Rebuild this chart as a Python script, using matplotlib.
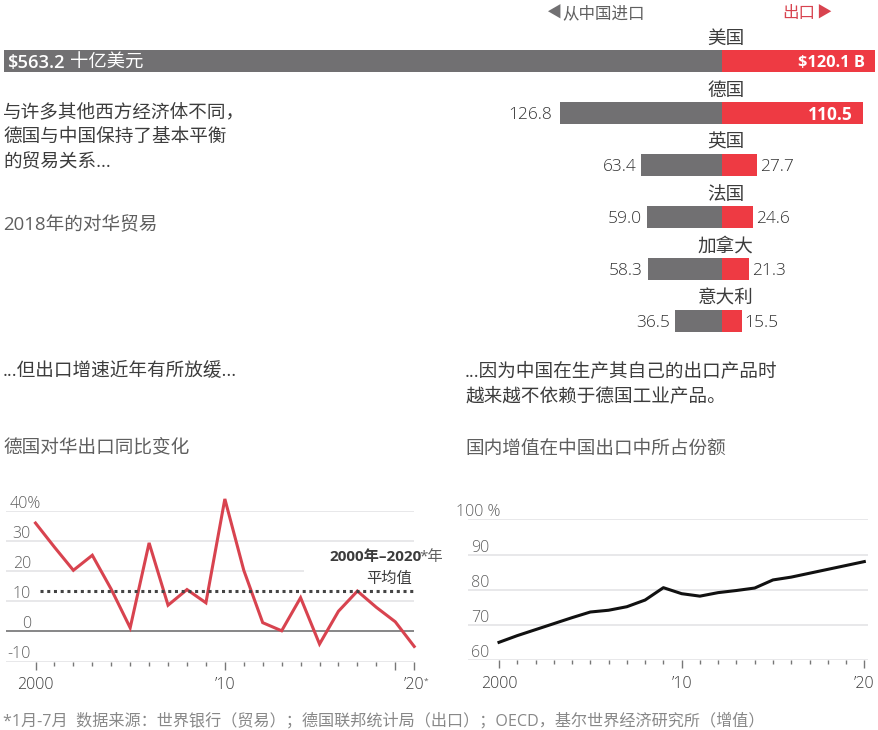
import matplotlib
matplotlib.use("Agg")
import matplotlib.pyplot as plt

plt.rcParams['font.family'] = ['Open Sans', 'Noto Sans CJK SC', 'DejaVu Sans']

W, H = 879, 730

countries = ["美国", "德国", "英国", "法国", "加拿大", "意大利"]
imports = [563.2, 126.8, 63.4, 59.0, 58.3, 36.5]
exports = [120.1, 110.5, 27.7, 24.6, 21.3, 15.5]

years = list(range(2000, 2021))
export_growth = [36, 28, 20.3, 25.3, 14, 1.2, 29.4, 8.7, 13.9, 9.5, 44, 20.3,
                 2.9, 0.2, 11.2, -4.2, 6.7, 13.4, 8, 3.2, -5]
export_avg = 13.4
domestic_share = [65.1, 67.0, 68.7, 70.4, 72.1, 73.7, 74.2, 75.2, 77.1, 80.6, 78.9,
                  78.2, 79.2, 79.8, 80.5, 82.8, 83.6, 84.7, 85.8, 86.9, 88.0]

GREY = "#717072"
RED = "#ee3a43"
TEXT = "#3c3c3c"
SOFT = "#5f5f5f"
GRID = "#e6e6e8"
SIZE = 13.4


def px_axes(fig, left, top, right, bottom):
    """Axes from pixel box, top-left origin."""
    return fig.add_axes([left / W, 1 - bottom / H, (right - left) / W, (bottom - top) / H])


def px_text(fig, x, y, s, size=SIZE, color=TEXT, ha="left", **kw):
    fig.text(x / W, 1 - (y + 2) / H, s, fontsize=size, color=color, ha=ha, va="center", **kw)


def plot_bars(fig):
    ax = px_axes(fig, 0, 35, 879, 347)
    scale = 1.275  # px per unit
    ax.set_xlim(-722 / scale, (879 - 722) / scale)
    ax.set_ylim(5.5, -0.5)
    ax.axis("off")
    ax.patch.set_alpha(0)
    pos = list(range(len(countries)))
    ax.barh(pos, [-v for v in imports], height=0.41, color=GREY)
    ax.barh(pos, exports, height=0.41, color=RED)
    for i, name in enumerate(countries):
        ax.annotate(name, (3, i), xytext=(0, 22), textcoords="offset pixels",
                    ha="center", va="center", fontsize=SIZE, color=TEXT)
        if i == 0:
            ax.annotate(f"${imports[i]}", (-imports[i], i), xytext=(3, -2),
                        textcoords="offset pixels", ha="left", va="center",
                        fontsize=13.2, color="white", fontweight="semibold")
            ax.annotate("十亿美元", (-imports[i], i), xytext=(66, -2),
                        textcoords="offset pixels", ha="left", va="center",
                        fontsize=13.2, color="white")
            ax.annotate(f"${exports[i]} B", (exports[i], i), xytext=(-10, -2),
                        textcoords="offset pixels", ha="right", va="center",
                        fontsize=11.8, color="white", fontweight="bold")
            continue
        gap = 8 if i == 1 else 5
        ax.annotate(f"{imports[i]:.1f}", (-imports[i], i), xytext=(-gap, -2),
                    textcoords="offset pixels", ha="right", va="center",
                    fontsize=12.5, color="#333333", fontweight="light")
        if i == 1:
            ax.annotate(f"{exports[i]:.1f}", (exports[i], i), xytext=(-10, -2),
                        textcoords="offset pixels", ha="right", va="center",
                        fontsize=12.5, color="white", fontweight="bold")
        else:
            ax.annotate(f"{exports[i]:.1f}", (exports[i], i), xytext=(3, -2),
                        textcoords="offset pixels", ha="left", va="center",
                        fontsize=12.5, color="#333333", fontweight="light")


def style_line_axes(ax, yticks, ylabels, label_x, xmajor, xlabels):
    for s in ax.spines.values():
        s.set_visible(False)
    ax.patch.set_alpha(0)
    ax.set_yticks(yticks)
    ax.set_yticklabels([])
    ax.tick_params(axis="y", length=0)
    ax.grid(axis="y", color=GRID, lw=1.3)
    ax.set_axisbelow(True)
    ax.set_xticks(xmajor, xlabels, fontsize=11.5, color=TEXT, fontweight="light")
    ax.set_xticks([y for y in years if y not in xmajor], minor=True)
    ax.tick_params(axis="x", which="major", length=6, width=1, color="#777777", pad=5)
    ax.tick_params(axis="x", which="minor", length=3, width=1, color="#777777")
    for y, lab, off in zip(yticks, ylabels, label_x):
        ax.annotate(lab, (0, y), xycoords=("axes fraction", "data"), xytext=(off, 7),
                    textcoords="offset pixels", ha="right", va="center", fontsize=11.5,
                    color=SOFT, fontweight="light")


def plot_growth(fig):
    left, right = 6, 414.5
    ax = px_axes(fig, left, 511, right, 661.5)
    unit = (414.2 - 35.5) / 20
    ax.set_xlim(2000 - (35.5 - left) / unit, 2020 + (right - 414.2) / unit)
    ax.set_ylim(-10, 40)
    yticks = [-10, 0, 10, 20, 30, 40]
    # 2019 tick is long in the original, so it goes in as an unlabelled major tick
    style_line_axes(ax, yticks, ["-10", "0", "10", "20", "30", "40%"],
                    [25, 25, 25, 25, 25, 35],
                    [2000, 2010, 2019, 2020], ["2000", "’10", "", "’20"])
    ax.annotate("*", (2020, -10), xytext=(9, -20), textcoords="offset pixels",
                ha="left", va="center", fontsize=6, color=SOFT, annotation_clip=False)
    # the 20 gridline stops short of the average label
    ax.get_ygridlines()[yticks.index(20)].set_visible(False)
    ax.hlines(20, ax.get_xlim()[0], 2014.2, color=GRID, lw=1.3, zorder=0.5)
    ax.plot(years, export_growth, color="#d8434f", lw=2.2, solid_joinstyle="miter",
            zorder=4, clip_on=False)
    ax.axhline(0, color="#777777", lw=1.2, zorder=3)
    ax.plot([2000.25, 2020], [export_avg, export_avg], color="#444444", lw=2.2,
            linestyle=(0, (1, 1.2)), zorder=5)


def plot_share(fig):
    left, right = 468, 867.7
    ax = px_axes(fig, left, 519.3, right, 660.3)
    unit = (864.3 - 499) / 20
    ax.set_xlim(2000 - (499 - left) / unit, 2020 + (right - 864.3) / unit)
    ax.set_ylim(60, 100)
    style_line_axes(ax, [60, 70, 80, 90, 100], ["60", "70", "80", "90", "100 %"],
                    [21, 21, 21, 21, 33],
                    [2000, 2010, 2020], ["2000", "’10", "’20"])
    ax.plot(years, domestic_share, color="#111111", lw=2.2, zorder=4)


def main():
    fig = plt.figure(figsize=(W / 100, H / 100), dpi=100, facecolor="white")
    plot_bars(fig)
    plot_growth(fig)
    plot_share(fig)

    px_text(fig, 546, 12, "◀", size=11, color=GREY)
    px_text(fig, 562, 12, "从中国进口", size=11.9, color=SOFT)
    px_text(fig, 782, 12, "出口", size=11.9, color="#d8434f")
    px_text(fig, 816, 12, "▶", size=11, color="#d8434f")

    for y, s in [(110, "与许多其他西方经济体不同，"), (135, "德国与中国保持了基本平衡"), (160, "的贸易关系...")]:
        px_text(fig, 3, y, s)
    px_text(fig, 3, 223, "2018年的对华贸易", color=SOFT)
    px_text(fig, 3, 369, "...但出口增速近年有所放缓...")
    px_text(fig, 3, 445, "德国对华出口同比变化", color=SOFT)
    px_text(fig, 465, 369, "...因为中国在生产其自己的出口产品时")
    px_text(fig, 465, 394, "越来越不依赖于德国工业产品。")
    px_text(fig, 465, 447, "国内增值在中国出口中所占份额", color=SOFT)

    px_text(fig, 329, 555.5, "2000年–2020", size=11, fontweight="bold")
    px_text(fig, 419, 555.5, "*年", size=11, ha="left", color=SOFT)
    px_text(fig, 412, 577, "平均值", size=11, ha="right")
    px_text(fig, 3, 719, "*1月-7月  数据来源：世界银行（贸易）；德国联邦统计局（出口）；OECD，基尔世界经济研究所（增值）",
            size=11.6, color="#888888")

    fig.savefig("out.png", dpi=100)


if __name__ == "__main__":
    main()
